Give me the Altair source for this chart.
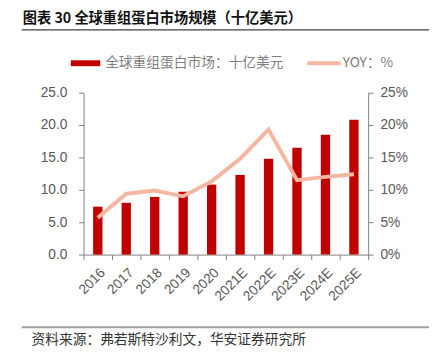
import altair as alt
import pandas as pd

years = ["2016", "2017", "2018", "2019", "2020", "2021E", "2022E", "2023E", "2024E", "2025E"]
market = [7.4, 8.0, 8.9, 9.7, 10.8, 12.3, 14.8, 16.5, 18.5, 20.8]
yoy = [5.7, 9.4, 9.9, 9.0, 11.3, 14.8, 19.3, 11.5, 12.0, 12.4]

title_text = "图表 30  全球重组蛋白市场规模（十亿美元）"
legend_bar = "全球重组蛋白市场：十亿美元"
legend_line = "YOY：%"
source_text = "资料来源：弗若斯特沙利文，华安证券研究所"

df = pd.DataFrame({"year": years, "market": market, "yoy": yoy})

RED = "#C00000"
PINK = "#F5B7A2"
AX = "#7F7F7F"
LAB = "#595959"
CJK = "Noto Sans CJK SC"
NUM = "Liberation Sans"

x = alt.X("year:N", sort=years, title=None,
          scale=alt.Scale(paddingInner=0, paddingOuter=0),
          axis=alt.Axis(labelAngle=-45, labelAlign="right", labelBaseline="top",
                        labelFontSize=14, labelColor=LAB, labelFont=NUM,
                        domainColor=AX, tickColor=AX, tickSize=5, tickBand="extent",
                        labelPadding=6))

base = alt.Chart(df)

bars = base.mark_bar(color=RED, width=9.5).encode(
    x=x,
    y=alt.Y("market:Q", title=None, scale=alt.Scale(domain=[0, 25]),
            axis=alt.Axis(values=[0, 5, 10, 15, 20, 25], format=".1f", grid=False,
                          labelFontSize=14, labelColor=LAB, labelFont=NUM,
                          domainColor=AX, tickColor=AX, tickSize=5, labelPadding=12)),
)

line = base.mark_line(color=PINK, strokeWidth=4).encode(
    x=x,
    y=alt.Y("yoy:Q", title=None, scale=alt.Scale(domain=[0, 25]),
            axis=alt.Axis(orient="right", values=[0, 5, 10, 15, 20, 25], grid=False,
                          labelExpr="datum.value + '%'",
                          labelFontSize=14, labelColor=LAB, labelFont=NUM,
                          domainColor=AX, tickColor=AX, tickSize=5, labelPadding=7)),
)

one = alt.Chart(pd.DataFrame({"t": [title_text], "a": [legend_bar], "b": [legend_line], "s": [source_text]}))

title = one.mark_text(align="left", baseline="middle", font=CJK, fontSize=14.5,
                      fontWeight="bold", color="#111111").encode(
    text="t:N", x=alt.value(-62), y=alt.value(-75))
underline = one.mark_rule(color="#404040", strokeWidth=1.5).encode(
    x=alt.value(-63), x2=alt.value(352), y=alt.value(-64))
leg_rect = one.mark_rule(color=RED, strokeWidth=6).encode(
    x=alt.value(-13), x2=alt.value(17), y=alt.value(-30))
leg_text1 = one.mark_text(align="left", baseline="middle", font=CJK, fontSize=14,
                          color="#7F7F7F").encode(
    text="a:N", x=alt.value(22), y=alt.value(-30))
leg_line = one.mark_rule(color=PINK, strokeWidth=4).encode(
    x=alt.value(228), x2=alt.value(262), y=alt.value(-30))
leg_text2 = one.mark_text(align="left", baseline="middle", font=CJK, fontSize=14,
                          color="#7F7F7F").encode(
    text="b:N", x=alt.value(264), y=alt.value(-30))
bottom = one.mark_rule(color="#A0A0A0", strokeWidth=2).encode(
    x=alt.value(-63), x2=alt.value(352), y=alt.value(239))
source = one.mark_text(align="left", baseline="middle", font=CJK, fontSize=14,
                       color="#333333").encode(
    text="s:N", x=alt.value(-53), y=alt.value(252))

chart = alt.layer(bars, line, title, underline, leg_rect, leg_text1, leg_line,
                  leg_text2, bottom, source).resolve_scale(y="independent").properties(
    width=290, height=165,
    padding={"left": 77, "top": 83, "right": 62, "bottom": 97},
    autosize="none",
).configure_view(stroke=None)

chart.save("out.html", embed_options={"renderer": "svg", "actions": False})
